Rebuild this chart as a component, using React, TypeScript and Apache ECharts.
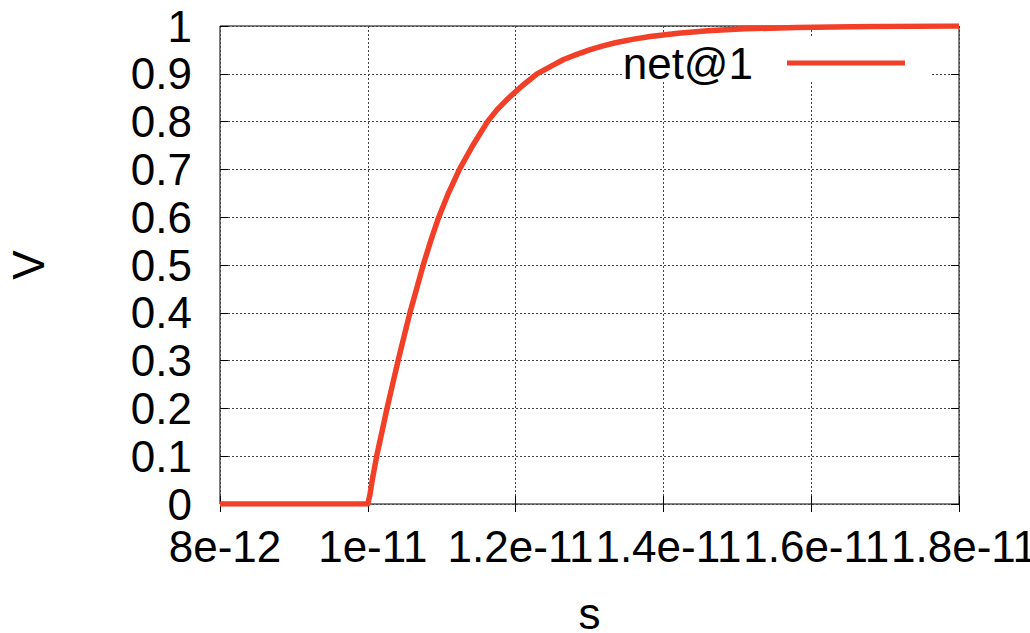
import React, { useEffect, useRef } from "react";
import * as echarts from "echarts";

// time in picoseconds (1e-12 s), voltage in V
const timePs = [8.0, 10.0, 10.03, 10.06, 10.12, 10.19, 10.26, 10.335, 10.41, 10.49, 10.57, 10.66, 10.75, 10.85, 10.96, 11.09, 11.24, 11.42, 11.62, 11.75, 11.91, 12.09, 12.29, 12.47, 12.65, 12.82, 13.0, 13.17, 13.35, 13.58, 13.82, 14.2, 14.6, 15.1, 15.8, 16.8, 18.0];
const voltage = [0, 0, 0.02, 0.05, 0.1, 0.15, 0.2, 0.25, 0.3, 0.35, 0.4, 0.45, 0.5, 0.55, 0.6, 0.65, 0.7, 0.75, 0.8, 0.825, 0.85, 0.875, 0.9, 0.915, 0.93, 0.94, 0.95, 0.958, 0.965, 0.972, 0.978, 0.985, 0.99, 0.994, 0.997, 0.999, 1.0];
const xTickValues = [8, 10, 12, 14, 16, 18];
const xTickLabels = ["8e-12", "1e-11", "1.2e-11", "1.4e-11", "1.6e-11", "1.8e-11"];
const seriesName = "net@1";
const xName = "s";
const yName = "V";

const FONT = "Liberation Sans";
const LINE_COLOR = "#f23f27";

export default function App() {
  const ref = useRef<HTMLDivElement>(null);
  useEffect(() => {
    if (!ref.current) return;
    const chart = echarts.init(ref.current, undefined, { renderer: "svg" });
    const xFmt = (v: number) => {
      const i = xTickValues.findIndex((t) => Math.abs(t - v) < 1e-6);
      return i >= 0 ? xTickLabels[i] : "";
    };
    const split = { show: true, lineStyle: { color: "#444", width: 1, type: [2, 2] as any } };
    const tick = { show: true, inside: true, length: 8, lineStyle: { color: "#000", width: 1 } };
    chart.setOption({
      animation: false,
      backgroundColor: "#fff",
      grid: { left: 220, top: 26, width: 739, height: 478, show: true, borderColor: "#000", borderWidth: 1, backgroundColor: "transparent", containLabel: false, outerBoundsMode: "none" },
      xAxis: [
        {
          type: "value", min: 8, max: 18, interval: 2, position: "bottom",
          name: xName, nameLocation: "middle", nameGap: 90,
          nameTextStyle: { fontFamily: FONT, fontSize: 44, color: "#000", lineHeight: 38 },
          axisLine: { show: false }, axisTick: tick, splitLine: split,
          axisLabel: { formatter: xFmt, fontFamily: FONT, fontSize: 44, color: "#000", margin: 20, showMinLabel: true, showMaxLabel: true, hideOverlap: false, padding: [0, 0, 0, 10] },
        },
        {
          type: "value", min: 8, max: 18, interval: 2, position: "top",
          axisLine: { show: false }, axisTick: tick, splitLine: { show: false }, axisLabel: { show: false },
        },
      ],
      yAxis: [
        {
          type: "value", min: 0, max: 1, interval: 0.1, position: "left",
          name: yName, nameLocation: "middle", nameGap: 170, nameRotate: 90,
          nameTextStyle: { fontFamily: FONT, fontSize: 44, color: "#000" },
          axisLine: { show: false }, axisTick: tick, splitLine: split,
          axisLabel: { fontFamily: FONT, fontSize: 44, color: "#000", margin: 28 },
        },
        {
          type: "value", min: 0, max: 1, interval: 0.1, position: "right",
          axisLine: { show: false }, axisTick: tick, splitLine: { show: false }, axisLabel: { show: false },
        },
      ],
      legend: {
        data: [{ name: seriesName, icon: "rect" }],
        right: 120, top: 36, align: "right",
        itemWidth: 118, itemHeight: 5,
        textStyle: { fontFamily: FONT, fontSize: 44, color: "#000", padding: [0, 29, 0, 0] },
        z: 5,
      },
      graphic: [
        { type: "rect", z: 1, shape: { x: 623, y: 36, width: 308, height: 46 }, style: { fill: "#fff" } },
      ],
      series: [
        {
          name: seriesName, type: "line", z: 3,
          data: timePs.map((t, i) => [t, voltage[i]]),
          showSymbol: false, symbol: "none",
          lineStyle: { color: LINE_COLOR, width: 5.5, join: "round" },
          itemStyle: { color: LINE_COLOR },
        },
      ],
    });
    return () => chart.dispose();
  }, []);
  return <div ref={ref} style={{ position: "fixed", left: 0, top: 0, width: 1030, height: 633 }} />;
}
